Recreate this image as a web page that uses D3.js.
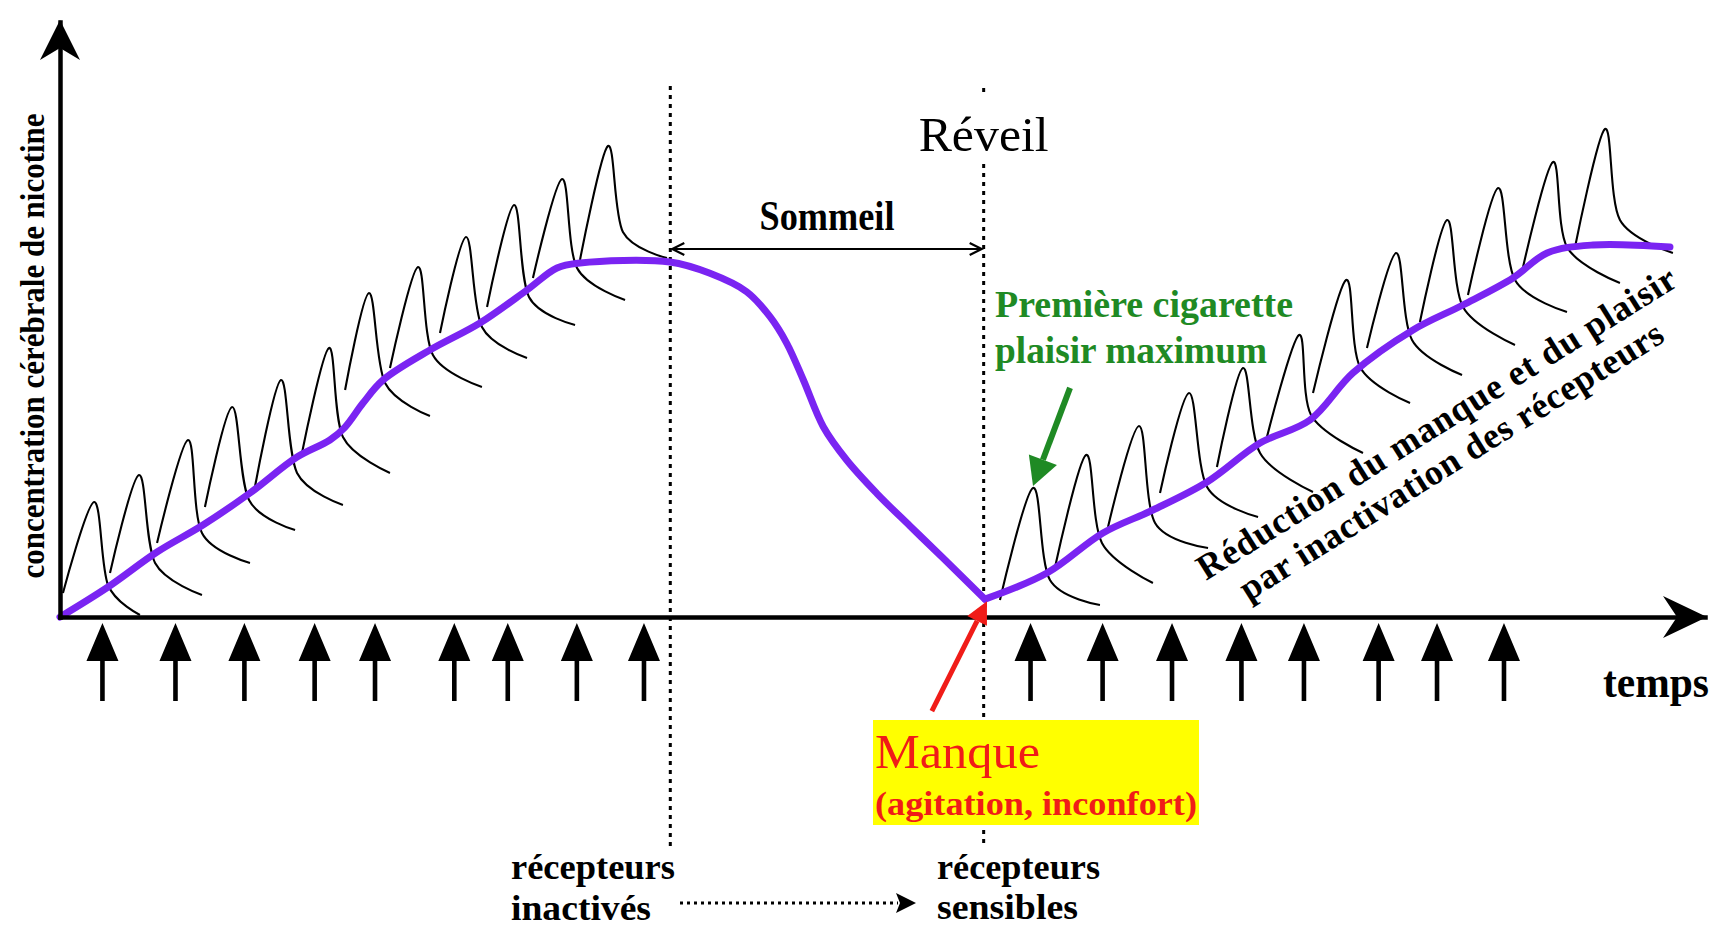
<!DOCTYPE html>
<html>
<head>
<meta charset="utf-8">
<script src="https://cdn.jsdelivr.net/npm/d3@7"></script>
<style>
  html, body { margin: 0; padding: 0; background: #fff; }
  svg { display: block; }
  text { font-family: "Liberation Serif", "Times New Roman", serif; }
</style>
</head>
<body>
<svg id="chart" width="1727" height="933"></svg>
<script>
// time runs 0..100 (arbitrary units), brain nicotine level 0..100
const sleepStart = 37.1;
const wakeTime = 56.15;

// smoothed nicotine level: day, then night decay down to the morning minimum
const levelDayNight = [
  [0, 0], [2.92, 5.04], [5.90, 10.92], [8.69, 15.46], [11.55, 20.84], [14.41, 26.89],
  [16.41, 29.75], [17.33, 31.93], [18.42, 35.97], [19.64, 39.83], [22.49, 44.87],
  [25.53, 49.41], [28.39, 54.96], [30.21, 58.66], [31.61, 59.50], [37.08, 59.66],
  [39.51, 57.76], [41.74, 54.67], [43.16, 50.47], [44.18, 46.00], [45.19, 39.83],
  [46.40, 31.98], [47.82, 26.39], [49.65, 20.79], [51.67, 15.29], [53.68, 9.92],
  [56.23, 3.00]
];
const levelMorning = [
  [56.23, 3.00], [60.00, 7.39], [63.40, 14.12], [66.44, 17.98], [69.73, 22.69],
  [72.95, 29.24], [75.99, 33.11], [78.60, 41.01], [82.25, 48.24], [85.29, 52.44],
  [88.33, 56.97], [90.40, 61.18], [93.19, 62.52], [97.87, 62.18]
];

// each cigarette peak: start, top, knee, end of the decay tail  (t, c pairs)
const peaksDay = [
  [0.18, 4.03, 2.07, 19.33, 2.92, 5.38, 4.86, 0.34],
  [3.04, 7.39, 4.80, 23.87, 5.78, 9.08, 8.63, 3.70],
  [5.90, 12.44, 7.78, 29.75, 8.63, 14.12, 11.55, 9.08],
  [8.81, 18.49, 10.46, 35.29, 11.49, 19.66, 14.29, 14.62],
  [11.85, 21.85, 13.43, 39.83, 14.41, 24.20, 17.20, 18.82],
  [14.71, 27.56, 16.35, 45.21, 17.20, 30.25, 20.06, 24.20],
  [17.33, 38.15, 18.78, 54.45, 19.76, 39.33, 22.49, 33.78],
  [20.06, 41.85, 21.76, 58.82, 22.67, 44.03, 25.65, 38.66],
  [23.10, 47.73, 24.68, 63.87, 25.65, 48.74, 28.39, 43.53],
  [25.96, 52.10, 27.60, 69.24, 28.51, 53.78, 31.31, 49.08],
  [28.75, 56.97, 30.52, 73.61, 31.43, 58.66, 34.35, 53.28],
  [31.61, 60.00, 33.31, 79.16, 34.22, 64.71, 36.90, 60.34]
];
const peaksMorning = [
  [57.14, 2.86, 59.15, 21.68, 60.18, 6.22, 63.22, 2.02],
  [60.49, 8.40, 62.37, 27.23, 63.34, 12.44, 66.44, 5.71],
  [63.71, 15.13, 65.59, 32.10, 66.57, 15.80, 69.79, 11.60],
  [66.87, 20.84, 68.63, 37.65, 69.73, 21.85, 72.83, 16.81],
  [70.33, 25.21, 71.91, 41.85, 72.95, 27.56, 76.17, 21.01],
  [73.37, 30.25, 75.32, 47.39, 76.05, 33.95, 79.21, 27.56],
  [76.17, 37.65, 78.18, 56.64, 79.03, 42.02, 82.07, 35.97],
  [79.45, 45.21, 81.22, 61.18, 82.19, 46.55, 85.23, 40.67],
  [82.67, 49.58, 84.32, 66.72, 85.29, 52.10, 88.45, 45.71],
  [85.59, 54.12, 87.42, 72.10, 88.45, 56.64, 91.61, 51.26],
  [88.94, 58.82, 90.76, 76.47, 91.61, 62.18, 94.83, 56.13],
  [92.10, 62.18, 93.92, 82.02, 94.83, 66.72, 98.05, 61.18]
];

// cigarettes smoked (arrows under the time axis)
const cigarettesDay = [2.58, 7.02, 11.21, 15.48, 19.15, 23.97, 27.22, 31.42, 35.50];
const cigarettesMorning = [59.00, 63.38, 67.60, 71.82, 75.62, 80.16, 83.71, 87.78];

// texts
const yLabel = "concentration cérébrale de nicotine";
const xLabel = "temps";
const firstCigLines = ["Première cigarette", "plaisir maximum"];
const reductionLines = ["Réduction du manque et du plaisir", "par inactivation des récepteurs"];

const PURPLE = "#7a24f2";
const GREEN = "#1f8a24";
const RED = "#f01c18";

const svg = d3.select("#chart");
svg.append("rect").attr("width", 1727).attr("height", 933).attr("fill", "#fff");

const x = d3.scaleLinear().domain([0, 100]).range([60, 1705]);
const y = d3.scaleLinear().domain([0, 100]).range([617, 22]);

// dotted vertical lines (sleep / wake)
const dotted = svg.append("g")
    .attr("stroke", "#000")
    .attr("stroke-width", 3)
    .attr("stroke-dasharray", "4 5");
dotted.append("line")
    .attr("x1", x(sleepStart)).attr("x2", x(sleepStart))
    .attr("y1", 86).attr("y2", 848);
dotted.append("line")
    .attr("x1", x(wakeTime)).attr("x2", x(wakeTime))
    .attr("y1", 88).attr("y2", 96);
dotted.append("line")
    .attr("x1", x(wakeTime)).attr("x2", x(wakeTime))
    .attr("y1", 164).attr("y2", 846);

// nicotine peaks
const peakLine = d3.line()
    .x(d => x(d[0]))
    .y(d => y(d[1]))
    .curve(d3.curveCardinal.tension(0.05));

function peakPoints(p) {
    return [[p[0], p[1]], [p[2], p[3]], [p[4], p[5]], [p[6], p[7]]];
}

svg.append("g")
    .selectAll("path")
    .data(peaksDay.concat(peaksMorning))
    .enter().append("path")
    .attr("d", d => peakLine(peakPoints(d)))
    .attr("fill", "none")
    .attr("stroke", "#000")
    .attr("stroke-width", 2.1);

// smoothed level
const levelLine = d3.line()
    .x(d => x(d[0]))
    .y(d => y(d[1]))
    .curve(d3.curveCatmullRom.alpha(0.5));

svg.append("g")
    .selectAll("path")
    .data([levelDayNight, levelMorning])
    .enter().append("path")
    .attr("d", levelLine)
    .attr("fill", "none")
    .attr("stroke", PURPLE)
    .attr("stroke-width", 7)
    .attr("stroke-linejoin", "round")
    .attr("stroke-linecap", "round");

// axes
svg.append("g")
    .attr("transform", `translate(0,${y(0)})`)
    .call(d3.axisBottom(x).tickValues([]).tickSizeOuter(0));
svg.append("g")
    .attr("transform", `translate(${x(0)},0)`)
    .call(d3.axisLeft(y).tickValues([]).tickSizeOuter(0));
svg.selectAll(".domain")
    .attr("stroke", "#000")
    .attr("stroke-width", 4.5)
    .attr("stroke-linecap", "square");

const x0 = x(0), y0 = y(0);
const xEnd = x(100), yTop = y(100);
svg.append("path")
    .attr("d", `M${xEnd + 2},${y0} L${xEnd - 42},${y0 - 21} L${xEnd - 28},${y0} L${xEnd - 42},${y0 + 21} Z`)
    .attr("fill", "#000");
svg.append("path")
    .attr("d", `M${x0},${yTop - 2} L${x0 - 20},${yTop + 38} L${x0},${yTop + 26} L${x0 + 20},${yTop + 38} Z`)
    .attr("fill", "#000");

// cigarette arrows
svg.append("g")
    .selectAll("path")
    .data(cigarettesDay.concat(cigarettesMorning))
    .enter().append("path")
    .attr("d", d => {
        const cx = x(d);
        return `M${cx},${y0 + 6} L${cx + 16},${y0 + 44} L${cx + 2.3},${y0 + 44} L${cx + 2.3},${y0 + 84}` +
               ` L${cx - 2.3},${y0 + 84} L${cx - 2.3},${y0 + 44} L${cx - 16},${y0 + 44} Z`;
    })
    .attr("fill", "#000");

// axis labels
svg.append("text")
    .attr("transform", "translate(44,346) rotate(-90)")
    .attr("text-anchor", "middle")
    .attr("font-size", 34)
    .attr("font-weight", "bold")
    .attr("textLength", 465)
    .attr("lengthAdjust", "spacingAndGlyphs")
    .text(yLabel);

svg.append("text")
    .attr("x", 1603).attr("y", 697)
    .attr("font-size", 44)
    .attr("font-weight", "bold")
    .attr("textLength", 106)
    .attr("lengthAdjust", "spacingAndGlyphs")
    .text(xLabel);

// sleep span
const sleepY = 249;
const xs = x(sleepStart), xw = x(wakeTime);
svg.append("path")
    .attr("d", `M${xs + 2},${sleepY} H${xw - 2} M${xs + 14},${sleepY - 6} L${xs + 2},${sleepY} L${xs + 14},${sleepY + 6}` +
               ` M${xw - 14},${sleepY - 6} L${xw - 2},${sleepY} L${xw - 14},${sleepY + 6}`)
    .attr("fill", "none")
    .attr("stroke", "#000")
    .attr("stroke-width", 2.2);

svg.append("text")
    .attr("x", (xs + xw) / 2).attr("y", 230)
    .attr("text-anchor", "middle")
    .attr("font-size", 42)
    .attr("font-weight", "bold")
    .attr("textLength", 135)
    .attr("lengthAdjust", "spacingAndGlyphs")
    .text("Sommeil");

svg.append("text")
    .attr("x", xw).attr("y", 151)
    .attr("text-anchor", "middle")
    .attr("font-size", 48)
    .attr("textLength", 130)
    .attr("lengthAdjust", "spacingAndGlyphs")
    .text("Réveil");

// first cigarette annotation
const greenText = svg.append("g")
    .attr("fill", GREEN)
    .attr("font-size", 38)
    .attr("font-weight", "bold");
greenText.append("text").attr("x", 995).attr("y", 317)
    .attr("textLength", 298).attr("lengthAdjust", "spacingAndGlyphs")
    .text(firstCigLines[0]);
greenText.append("text").attr("x", 995).attr("y", 363)
    .attr("textLength", 272).attr("lengthAdjust", "spacingAndGlyphs")
    .text(firstCigLines[1]);

function arrow(g, x1, y1, x2, y2, headLen, headHalf, width, color) {
    const a = Math.atan2(y2 - y1, x2 - x1);
    const bx = x2 - headLen * Math.cos(a), by = y2 - headLen * Math.sin(a);
    const nx = -Math.sin(a), ny = Math.cos(a);
    g.append("line")
        .attr("x1", x1).attr("y1", y1).attr("x2", bx).attr("y2", by)
        .attr("stroke", color).attr("stroke-width", width);
    g.append("path")
        .attr("d", `M${x2},${y2} L${bx + nx * headHalf},${by + ny * headHalf} L${bx - nx * headHalf},${by - ny * headHalf} Z`)
        .attr("fill", color);
}

const firstPeak = peaksMorning[0];
arrow(svg, x(61.4), y(38.5), x(firstPeak[2]), y(firstPeak[3]) - 2, 28, 15, 6, GREEN);

// withdrawal annotation
const lowPoint = levelMorning[0];
arrow(svg, x(53.0), y(-15.8), x(lowPoint[0]) + 2, y(lowPoint[1]) + 2, 22, 11, 5, RED);

svg.append("rect")
    .attr("x", 873).attr("y", 720)
    .attr("width", 326).attr("height", 105)
    .attr("fill", "#ffff00");

svg.append("text")
    .attr("x", 875).attr("y", 768)
    .attr("fill", RED)
    .attr("font-size", 48)
    .attr("textLength", 165).attr("lengthAdjust", "spacingAndGlyphs")
    .text("Manque");
svg.append("text")
    .attr("x", 875).attr("y", 815)
    .attr("fill", RED)
    .attr("font-size", 34)
    .attr("font-weight", "bold")
    .attr("textLength", 322).attr("lengthAdjust", "spacingAndGlyphs")
    .text("(agitation, inconfort)");

// rotated caption along the morning rise
const caption = svg.append("g")
    .attr("transform", "translate(1206,581) rotate(-32)")
    .attr("font-size", 36)
    .attr("font-weight", "bold");
caption.append("text").attr("x", 0).attr("y", 0)
    .attr("textLength", 558).attr("lengthAdjust", "spacing")
    .text(reductionLines[0]);
caption.append("text").attr("x", 25).attr("y", 40)
    .attr("textLength", 493).attr("lengthAdjust", "spacing")
    .text(reductionLines[1]);

// receptor states below
const bottom = svg.append("g")
    .attr("font-size", 36)
    .attr("font-weight", "bold");
bottom.append("text").attr("x", 511).attr("y", 879)
    .attr("textLength", 164).attr("lengthAdjust", "spacingAndGlyphs").text("récepteurs");
bottom.append("text").attr("x", 511).attr("y", 920)
    .attr("textLength", 140).attr("lengthAdjust", "spacingAndGlyphs").text("inactivés");
bottom.append("text").attr("x", 937).attr("y", 879)
    .attr("textLength", 163).attr("lengthAdjust", "spacingAndGlyphs").text("récepteurs");
bottom.append("text").attr("x", 937).attr("y", 919)
    .attr("textLength", 141).attr("lengthAdjust", "spacingAndGlyphs").text("sensibles");

svg.append("line")
    .attr("x1", 680).attr("y1", 903).attr("x2", 898).attr("y2", 903)
    .attr("stroke", "#000").attr("stroke-width", 3)
    .attr("stroke-dasharray", "3 4");
svg.append("path")
    .attr("d", "M916,903 L896,893 L900,903 L896,913 Z")
    .attr("fill", "#000");
</script>
</body>
</html>
